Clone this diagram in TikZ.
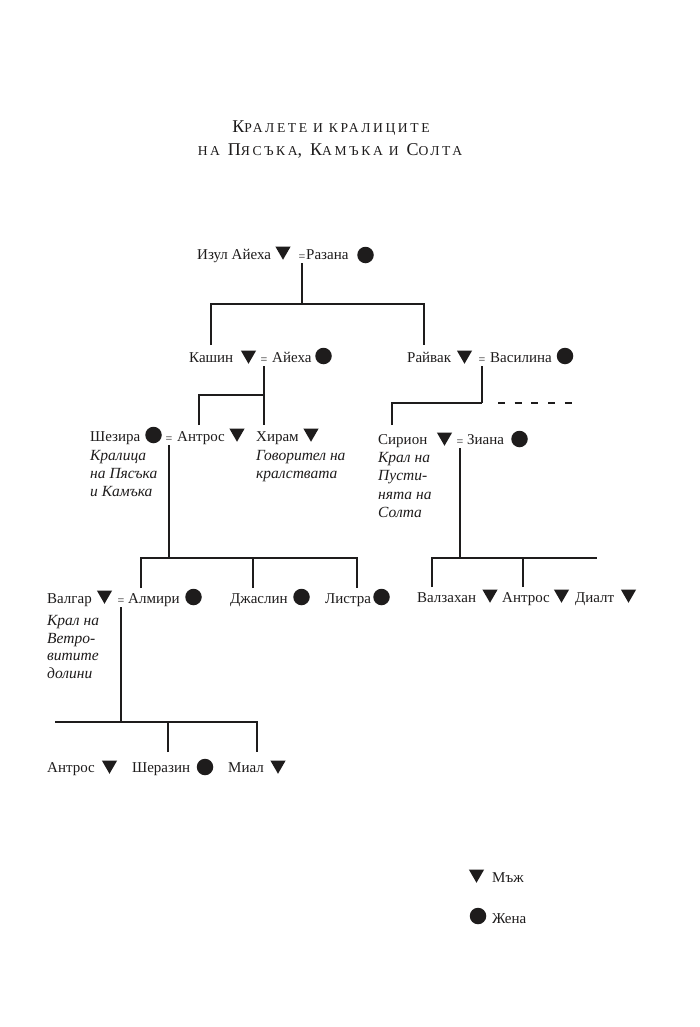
\documentclass[tikz,border=0pt]{standalone}
\usepackage{fontspec}
\setmainfont{Liberation Serif}
\newfontfamily\ttlfont[LetterSpace=19]{Liberation Serif}
\usetikzlibrary{shapes.geometric}
\definecolor{ink}{RGB}{30,28,28}
\newcommand\smcp[1]{{\fontsize{13.6}{14}\selectfont #1}}
\begin{document}
\begin{tikzpicture}[x=1pt,y=-1pt,
 nm/.style={anchor=base west, inner sep=0, text=ink, font=\fontsize{15}{18}\selectfont},
 itl/.style={nm, font=\fontsize{15.5}{18}\selectfont\itshape},
 eqs/.style={anchor=base, inner sep=0, outer sep=3pt, text=ink, font=\fontsize{12}{14}\selectfont},
 male/.style={regular polygon, regular polygon sides=3, shape border rotate=180, fill=ink, minimum size=17.5pt, inner sep=0},
 female/.style={circle, fill=ink, minimum size=16.5pt, inner sep=0},
 ln/.style={draw=ink, line width=2pt},
 ttl/.style={anchor=base, inner sep=0, text=ink, font=\ttlfont\fontsize{18}{20}\selectfont}]
\fill[white] (0,0) rectangle (700,1027);
\useasboundingbox (0,0) rectangle (700,1027);
% title
\node[ttl] (t1) at (331,133) {К\smcp{РАЛЕТЕ И КРАЛИЦИТЕ}};
\node[ttl] (t2) at (330,156) {\smcp{НА} П\smcp{ЯСЪКА}, К\smcp{АМЪКА И} С\smcp{ОЛТА}};
% row 1
\node[nm] (izul) at (197,259) {Изул Айеха};
\node[male] (izulS) at (283,251) {};
\node[eqs] (e1) at (302,260) {=};
\node[nm] (razana) at (306,259) {Разана};
\node[female] (razanaS) at (365.5,255) {};
% row 2
\node[nm] (kashin) at (189,362) {Кашин};
\node[male] (kashinS) at (248.5,355) {};
\node[eqs] (e2) at (264,363) {=};
\node[nm] (aieha) at (272,362) {Айеха};
\node[female] (aiehaS) at (323.5,356) {};
\node[nm] (raivak) at (407,362) {Райвак};
\node[male] (raivakS) at (464.5,355) {};
\node[eqs] (e3) at (482,363) {=};
\node[nm] (vasilina) at (490,362) {Василина};
\node[female] (vasilinaS) at (565,356) {};
% row 3 left
\node[nm] (shezira) at (90,441) {Шезира};
\node[female] (sheziraS) at (153.5,435) {};
\node[eqs] (e4) at (169,442) {=};
\node[nm] (antros1) at (177,441) {Антрос};
\node[male] (antros1S) at (237,433) {};
\node[itl] (sh1) at (90,460) {Кралица};
\node[itl] (sh2) at (90,478) {на Пясъка};
\node[itl] (sh3) at (90,496) {и Камъка};
\node[nm] (hiram) at (256,441) {Хирам};
\node[male] (hiramS) at (311,433) {};
\node[itl] (hi1) at (256,460) {Говорител на};
\node[itl] (hi2) at (256,478) {кралствата};
% row 3 right
\node[nm] (sirion) at (378,444) {Сирион};
\node[male] (sirionS) at (444.5,437) {};
\node[eqs] (e5) at (460,445) {=};
\node[nm] (ziana) at (467,444) {Зиана};
\node[female] (zianaS) at (519.5,439) {};
\node[itl] (si1) at (378,462) {Крал на};
\node[itl] (si2) at (378,480.5) {Пусти-};
\node[itl] (si3) at (378,499) {нята на};
\node[itl] (si4) at (378,517.5) {Солта};
% row 4 left
\node[nm] (valgar) at (47,603) {Валгар};
\node[male] (valgarS) at (104.5,595) {};
\node[eqs] (e6) at (121,604) {=};
\node[nm] (almiri) at (128,603) {Алмири};
\node[female] (almiriS) at (193.5,597) {};
\node[nm] (jaslin) at (230,603) {Джаслин};
\node[female] (jaslinS) at (301.5,597) {};
\node[nm] (listra) at (325,603) {Листра};
\node[female] (listraS) at (381.5,597) {};
\node[itl] (va1) at (47,625) {Крал на};
\node[itl] (va2) at (47,643) {Ветро-};
\node[itl] (va3) at (47,660.5) {витите};
\node[itl] (va4) at (47,678) {долини};
% row 4 right
\node[nm] (valzahan) at (417,602) {Валзахан};
\node[male] (valzahanS) at (490,594) {};
\node[nm] (antros2) at (502,602) {Антрос};
\node[male] (antros2S) at (561.5,594) {};
\node[nm] (dialt) at (575,602) {Диалт};
\node[male] (dialtS) at (628.5,594) {};
% row 5
\node[nm] (antros3) at (47,772) {Антрос};
\node[male] (antros3S) at (109.5,765) {};
\node[nm] (sherazin) at (132,772) {Шеразин};
\node[female] (sherazinS) at (205,767) {};
\node[nm] (mial) at (228,772) {Миал};
\node[male] (mialS) at (278,765) {};
% legend
\node[male] (legM) at (476.5,874) {};
\node[nm] (legMt) at (492,882) {Мъж};
\node[female] (legF) at (478,916) {};
\node[nm] (legFt) at (492,923) {Жена};
% connectors
\coordinate (b1) at (302,304);
\coordinate (kashinT) at (211,345);
\coordinate (raivakT) at (424,345);
\draw[ln] (e1.south) -- (b1);
\draw[ln] (kashinT) |- (b1) -| (raivakT);
\coordinate (b2) at (264,395);
\coordinate (antros1T) at (199,425);
\coordinate (hiramT) at (264,425);
\draw[ln] (e2.south) -- (hiramT);
\draw[ln] (antros1T) |- (b2);
\coordinate (b3) at (482,403);
\coordinate (sirionT) at (392,425);
\draw[ln] (e3.south) -- (b3);
\draw[ln] (sirionT) |- (b3);
\coordinate (dashS) at (498,403);
\coordinate (dashE) at (573,403);
\draw[ln, dash pattern=on 7pt off 9.7pt] (dashS) -- (dashE);
\coordinate (b4) at (169,558);
\coordinate (almiriT) at (141,588);
\coordinate (jaslinT) at (253,588);
\coordinate (listraT) at (357,588);
\draw[ln] (e4.south) -- (b4);
\draw[ln] (almiriT) |- (b4) -| (listraT);
\draw[ln] (jaslinT) -- (jaslinT |- b4);
\coordinate (b5) at (460,558);
\coordinate (valzahanT) at (432,587);
\coordinate (antros2T) at (523,587);
\coordinate (barEnd) at (597,558);
\draw[ln] (e5.south) -- (b5);
\draw[ln] (valzahanT) |- (barEnd);
\draw[ln] (antros2T) -- (antros2T |- b5);
\coordinate (b6) at (121,722);
\coordinate (barStart) at (55,722);
\coordinate (sherazinT) at (168,752);
\coordinate (mialT) at (257,752);
\draw[ln] (e6.south) -- (b6);
\draw[ln] (barStart) -| (mialT);
\draw[ln] (sherazinT) -- (sherazinT |- b6);
\end{tikzpicture}
\end{document}
